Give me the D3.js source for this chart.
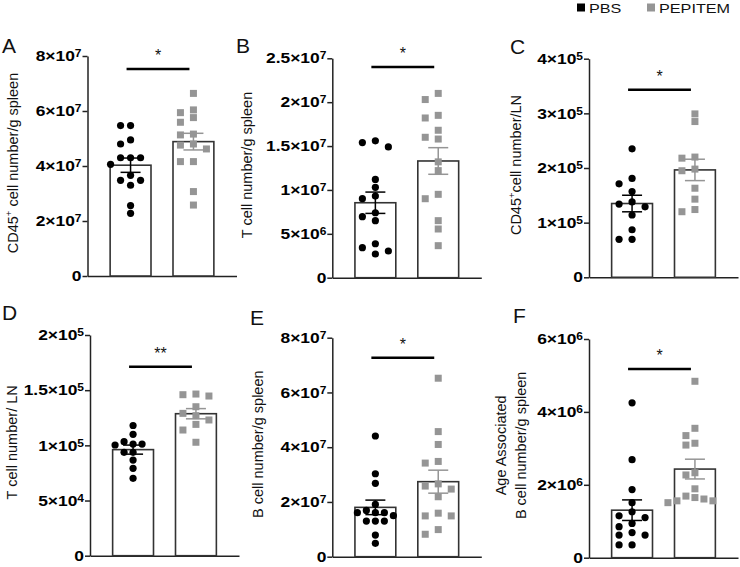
<!DOCTYPE html>
<html>
<head>
<meta charset="utf-8">
<script src="https://cdn.jsdelivr.net/npm/d3@7"></script>
<style>
  body { margin: 0; background: #fff; }
  svg { display: block; font-family: "Liberation Sans", Arial, sans-serif; }
</style>
</head>
<body>
<svg id="chart" width="740" height="567"></svg>
<script>
// groups
const groups = ["PBS", "PEPITEM"];

// A - CD45+ cells / g spleen
const cd45SpleenPBS = [5.47e7, 5.47e7, 4.95e7, 4.8e7, 4.3e7, 4.3e7, 4.3e7, 4.06e7, 3.66e7, 3.48e7, 3.48e7, 3.3e7, 2.56e7, 2.28e7];
const cd45SpleenPEP = [6.64e7, 6.04e7, 5.94e7, 5.76e7, 5.59e7, 5.16e7, 5.13e7, 4.8e7, 4.76e7, 4.62e7, 4.16e7, 4.16e7, 3.07e7, 2.58e7];
const cd45SpleenTicks = [0, 2e7, 4e7, 6e7, 8e7];

// B - T cells / g spleen
const tSpleenPBS = [1.56e7, 1.54e7, 1.49e7, 1.12e7, 1.03e7, 9.3e6, 9.0e6, 7.4e6, 6.95e6, 6.5e6, 3.87e6, 3.42e6, 3.04e6, 2.7e6];
const tSpleenPEP = [2.1e7, 2.03e7, 1.85e7, 1.82e7, 1.68e7, 1.6e7, 1.58e7, 1.32e7, 1.22e7, 9.5e6, 9.0e6, 6.5e6, 5.55e6, 3.65e6];
const tSpleenTicks = [0, 5e6, 1e7, 1.5e7, 2e7, 2.5e7];

// C - CD45+ cells / LN
const cd45LnPBS = [2.35e5, 1.81e5, 1.71e5, 1.57e5, 1.38e5, 1.34e5, 1.29e5, 1.14e5, 8.7e4, 6.95e4, 6.95e4];
const cd45LnPEP = [2.99e5, 2.85e5, 2.2e5, 2.18e5, 1.98e5, 1.95e5, 1.63e5, 1.43e5, 1.24e5, 1.2e5];
const cd45LnTicks = [0, 1e5, 2e5, 3e5, 4e5];

// D - T cells / LN
const tLnPBS = [1.18e5, 1.1e5, 1.033e5, 1.012e5, 1.012e5, 1.003e5, 9.37e4, 9.37e4, 8.67e4, 7.92e4, 7.01e4];
const tLnPEP = [1.465e5, 1.459e5, 1.447e5, 1.35e5, 1.29e5, 1.269e5, 1.23e5, 1.19e5, 1.139e5, 1.028e5];
const tLnTicks = [0, 5e4, 1e5, 1.5e5, 2e5];

// E - B cells / g spleen
const bSpleenPBS = [4.41e7, 3.03e7, 2.68e7, 1.91e7, 1.69e7, 1.61e7, 1.61e7, 1.61e7, 1.5e7, 1.3e7, 1.3e7, 1.3e7, 7.9e6, 4.9e6];
const bSpleenPEP = [6.52e7, 4.57e7, 4.1e7, 3.48e7, 3.42e7, 2.66e7, 2.58e7, 2.47e7, 2.19e7, 1.59e7, 1.49e7, 1.49e7, 9.9e6, 8.2e6];
const bSpleenTicks = [0, 2e7, 4e7, 6e7, 8e7];

// F - age associated B cells / g spleen
const abcSpleenPBS = [4.25e6, 2.69e6, 1.87e6, 1.51e6, 1.26e6, 1.15e6, 1.1e6, 9.4e5, 8.5e5, 6.9e5, 6.2e5, 6.2e5, 3.5e5, 3.5e5];
const abcSpleenPEP = [4.84e6, 3.55e6, 3.35e6, 3.14e6, 3.09e6, 2.33e6, 2.27e6, 1.89e6, 1.69e6, 1.65e6, 1.61e6, 1.56e6, 1.56e6, 1.51e6];
const abcSpleenTicks = [0, 2e6, 4e6, 6e6];

// significance bars (height in data units) and labels
const sigLevels = [7.53e7, 2.40e7, 3.43e5, 1.713e5, 7.27e7, 5.18e6];
const sigLabels = ["*", "*", "*", "**", "*", "*"];

const colors = {PBS: "#000", PEPITEM: "#959595"};
const SX = 1.2; // tick + legend text in the figure is drawn wide

const panels = [
    {letter: "A", lx: 2, ly: 53, pbs: cd45SpleenPBS, pep: cd45SpleenPEP, ticks: cd45SpleenTicks,
     axisX: 87.5, y0: 276, yTop: 56, step: [10, 13], titleX: [18],
     title: [["CD45", "+", " cell number/g spleen"]]},
    {letter: "B", lx: 236, ly: 53, pbs: tSpleenPBS, pep: tSpleenPEP, ticks: tSpleenTicks,
     axisX: 332.3, y0: 277.7, yTop: 58.3, step: [13, 13], titleX: [252],
     title: [["T cell number/g spleen"]]},
    {letter: "C", lx: 510, ly: 54, pbs: cd45LnPBS, pep: cd45LnPEP, ticks: cd45LnTicks,
     axisX: 589, y0: 277.3, yTop: 58.7, step: [13, 13], titleX: [521],
     title: [["CD45", "+", "cell number/LN"]]},
    {letter: "D", lx: 2, ly: 320, pbs: tLnPBS, pep: tLnPEP, ticks: tLnTicks,
     axisX: 90, y0: 555.7, yTop: 335, step: [9, 13], titleX: [17],
     title: [["T cell number/ LN"]]},
    {letter: "E", lx: 250, ly: 325, pbs: bSpleenPBS, pep: bSpleenPEP, ticks: bSpleenTicks,
     axisX: 332.3, y0: 556.7, yTop: 337.7, step: [9, 13], titleX: [262.5],
     title: [["B cell number/g spleen"]]},
    {letter: "F", lx: 513, ly: 323, pbs: abcSpleenPBS, pep: abcSpleenPEP, ticks: abcSpleenTicks,
     axisX: 589, y0: 557.7, yTop: 339, step: [13, 9], titleX: [506, 525.5],
     title: [["Age Associated"], ["B cell number/g spleen"]]}
];

const svg = d3.select("#chart");

// "8×10⁷" style tick labels
function sciLabels(sel) {
    sel.each(function (d) {
        const t = d3.select(this).text(null);
        if (d === 0) { t.append("tspan").text("0"); return; }
        const e = Math.floor(Math.log10(d) + 1e-9);
        const m = +(d / Math.pow(10, e)).toFixed(1);
        t.append("tspan").text(m + "×10");
        t.append("tspan").attr("font-size", 10).attr("dy", -4).text(e);
    });
}

// simple column swarm: sorted high->low, first free column wins
function swarm(vals, y, cx, step) {
    const placed = [];
    const cand = [0, -1, 1, -2, 2, -3, 3];
    const out = vals.map(v => ({v: v}));
    d3.range(vals.length).sort((a, b) => vals[b] - vals[a]).forEach(i => {
        const py = y(vals[i]);
        let k = cand.find(c => !placed.some(p => p.k === c && Math.abs(p.y - py) < 7.5));
        if (k === undefined) k = 0;
        placed.push({k: k, y: py});
        out[i].x = cx + k * step;
        out[i].y = py;
    });
    return out;
}

panels.forEach((p, pi) => {
    const g = svg.append("g");

    const y = d3.scaleLinear()
        .domain([0, d3.max(p.ticks)])
        .range([p.y0, p.yTop]);

    const x = d3.scaleBand()
        .domain(groups)
        .range([p.axisX, p.axisX + 149])
        .paddingInner(0.35)
        .paddingOuter(0.36);
    const bw = x.bandwidth();

    // x axis: plain line
    g.append("g")
        .attr("transform", "translate(0," + p.y0 + ")")
        .call(d3.axisBottom(x).tickSize(0).tickSizeOuter(0).tickFormat(() => ""))
        .call(s => s.select(".domain").attr("stroke", "#222").attr("stroke-width", 1.5));

    // y axis
    const ya = g.append("g")
        .attr("transform", "translate(" + p.axisX + ",0)")
        .call(d3.axisLeft(y).tickValues(p.ticks).tickSize(5).tickSizeOuter(0));
    ya.select(".domain").attr("stroke", "#222").attr("stroke-width", 1.5);
    ya.selectAll(".tick line").attr("stroke", "#222").attr("stroke-width", 1.5);
    ya.selectAll(".tick text")
        .attr("font-family", "'Liberation Sans', Arial, sans-serif")
        .attr("font-size", 14.5)
        .attr("font-weight", "bold")
        .attr("fill", "#000")
        .attr("x", -6 / SX)
        .attr("transform", "scale(" + SX + ",1)")
        .call(sciLabels);

    // bars at group means
    const sets = [p.pbs, p.pep].map((vals, gi) => {
        const name = groups[gi];
        const mean = d3.mean(vals);
        const sem = d3.deviation(vals) / Math.sqrt(vals.length);
        return {name: name, vals: vals, mean: mean, sem: sem, cx: x(name) + bw / 2, step: p.step[gi]};
    });

    g.selectAll("rect.bar")
        .data(sets)
        .join("rect")
        .attr("class", "bar")
        .attr("x", d => x(d.name))
        .attr("width", bw)
        .attr("y", d => y(d.mean))
        .attr("height", d => p.y0 - y(d.mean))
        .attr("fill", "#fff")
        .attr("stroke", "#333")
        .attr("stroke-width", 1.6);

    // individual animals
    const pbsPts = swarm(sets[0].vals, y, sets[0].cx, sets[0].step);
    const pepPts = swarm(sets[1].vals, y, sets[1].cx, sets[1].step);

    g.selectAll("circle.pt")
        .data(pbsPts)
        .join("circle")
        .attr("class", "pt")
        .attr("cx", d => d.x)
        .attr("cy", d => d.y)
        .attr("r", 3.6)
        .attr("fill", colors.PBS);

    g.selectAll("rect.pt")
        .data(pepPts)
        .join("rect")
        .attr("class", "pt")
        .attr("x", d => d.x - 3.5)
        .attr("y", d => d.y - 3.5)
        .attr("width", 7)
        .attr("height", 7)
        .attr("fill", colors.PEPITEM);

    // mean +/- SEM
    sets.forEach(d => {
        const c = colors[d.name];
        const eb = g.append("g").attr("stroke", c).attr("stroke-width", 1.5);
        eb.append("line")
            .attr("x1", d.cx).attr("x2", d.cx)
            .attr("y1", y(d.mean - d.sem)).attr("y2", y(d.mean + d.sem));
        [d.mean - d.sem, d.mean + d.sem].forEach(v => {
            eb.append("line")
                .attr("x1", d.cx - 10).attr("x2", d.cx + 10)
                .attr("y1", y(v)).attr("y2", y(v));
        });
    });

    // significance
    const sy = y(sigLevels[pi]);
    g.append("line")
        .attr("x1", sets[0].cx - 4).attr("x2", sets[1].cx - 4)
        .attr("y1", sy).attr("y2", sy)
        .attr("stroke", "#000")
        .attr("stroke-width", 2.5);
    g.append("text")
        .attr("x", (sets[0].cx + sets[1].cx) / 2 - 4)
        .attr("y", sy - 8)
        .attr("text-anchor", "middle")
        .attr("font-size", 16)
        .attr("fill", "#111")
        .text(sigLabels[pi]);

    // y title
    const cy = (p.y0 + p.yTop) / 2 - 3;
    p.title.forEach((parts, li) => {
        const t = g.append("text")
            .attr("transform", "translate(" + p.titleX[li] + "," + cy + ") rotate(-90)")
            .attr("text-anchor", "middle")
            .attr("font-size", 14.5)
            .attr("fill", "#111");
        t.append("tspan").text(parts[0]);
        if (parts.length > 1) {
            t.append("tspan").attr("font-size", 9.5).attr("dy", -6).text(parts[1]);
            t.append("tspan").attr("dy", 6).text(parts[2]);
        }
    });

    // panel letter
    g.append("text")
        .attr("x", p.lx)
        .attr("y", p.ly)
        .attr("font-size", 21)
        .attr("fill", "#111")
        .text(p.letter);
});

// legend
const legend = svg.append("g");
const legendX = [577, 647];
groups.forEach((name, i) => {
    legend.append("rect")
        .attr("x", legendX[i]).attr("y", 3.5)
        .attr("width", 8).attr("height", 8)
        .attr("fill", colors[name]);
    legend.append("text")
        .attr("transform", "translate(" + (legendX[i] + 12) + ",12.8) scale(" + SX + ",1)")
        .attr("font-size", 13.5)
        .attr("fill", "#111")
        .text(name);
});
</script>
</body>
</html>
